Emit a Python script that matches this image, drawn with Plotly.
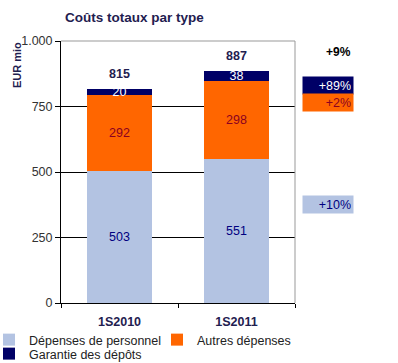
import plotly.graph_objects as go

categories = ["1S2010", "1S2011"]
personnel = [503, 551]
autres = [292, 298]
garantie = [20, 38]
totals = [815, 887]
y_ticks = [0, 250, 500, 750, 1000]
y_tick_labels = ["0", "250", "500", "750", "1.000"]
pct_total = "+9%"
pct_garantie = "+89%"
pct_autres = "+2%"
pct_personnel = "+10%"

FONT = "Liberation Sans, Arial, sans-serif"
NAVY = "#000066"
ORANGE = "#FF6600"
LIGHT = "#B3C3E2"
TITLE_C = "#1F2050"

PL, PR, PT, PB = 61, 295, 41, 303
PW, PH = PR - PL, PB - PT

def px_x(px):
    return (px - PL) / PW

def px_y(py):
    return (PB - py) / PH

fig = go.Figure()
fig.add_trace(go.Bar(x=categories, y=personnel, name="Dépenses de personnel",
                     marker=dict(color=LIGHT, line=dict(width=0)),
                     text=[str(v) for v in personnel], textposition="inside",
                     insidetextanchor="middle", constraintext="none", textangle=0,
                     textfont=dict(color="#000080", size=12.5, family=FONT),
                     legend="legend"))
fig.add_trace(go.Bar(x=categories, y=autres, name="Autres dépenses",
                     marker=dict(color=ORANGE, line=dict(width=0)),
                     text=[str(v) for v in autres], textposition="inside",
                     insidetextanchor="middle", constraintext="none", textangle=0,
                     textfont=dict(color="#8B0020", size=12.5, family=FONT),
                     legend="legend2"))
fig.add_trace(go.Bar(x=categories, y=garantie, name="Garantie des dépôts",
                     marker=dict(color=NAVY, line=dict(width=0)),
                     text=[str(v) for v in garantie], textposition="inside",
                     insidetextanchor="middle", constraintext="none", textangle=0,
                     textfont=dict(color="white", size=12.5, family=FONT),
                     legend="legend3"))

for c, t in zip(categories, totals):
    fig.add_annotation(x=c, y=t, text=f"<b>{t}</b>", showarrow=False,
                       xanchor="center", yanchor="bottom", yshift=6,
                       font=dict(color=TITLE_C, size=12.5, family=FONT))

leg_common = dict(orientation="h", xanchor="left", yanchor="middle",
                  font=dict(size=12.5, color="#222222", family=FONT),
                  bgcolor="rgba(0,0,0,0)", borderwidth=0)

fig.update_layout(
    width=398, height=363,
    margin=dict(l=PL, r=398 - PR, t=PT, b=363 - PB, autoexpand=False),
    barmode="stack", bargap=0.445,
    plot_bgcolor="white", paper_bgcolor="white",
    font=dict(family=FONT, size=12.5, color="#333333"),
    title=dict(text="<b>Coûts totaux par type</b>", x=65/398, xanchor="left",
               xref="container", y=1-17/363, yanchor="middle", yref="container",
               font=dict(size=13.5, color=TITLE_C, family=FONT)),
    xaxis=dict(showline=True, linecolor="black", linewidth=1,
               ticks="outside", tickson="boundaries", ticklen=4, tickcolor="black",
               ticklabelstandoff=7,
               tickfont=dict(color=TITLE_C, size=12.5, family=FONT),
               tickvals=categories, ticktext=[f"<b>{c}</b>" for c in categories]),
    yaxis=dict(range=[0, 1000], tickvals=y_ticks, ticktext=y_tick_labels,
               showline=True, linecolor="black", linewidth=1,
               ticks="outside", ticklen=5, tickcolor="black",
               showgrid=True, gridcolor="black", gridwidth=1,
               zeroline=False,
               tickfont=dict(color="#333333", size=12.5, family=FONT)),
    legend=dict(x=px_x(-11), y=px_y(340), **leg_common),
    legend2=dict(x=px_x(157), y=px_y(340), **leg_common),
    legend3=dict(x=px_x(-11), y=px_y(354), **leg_common),
    showlegend=True,
)

fig.add_shape(type="line", xref="paper", yref="paper", x0=0, x1=1, y0=1, y1=1,
              line=dict(color="#999999", width=1), layer="above")
fig.add_shape(type="line", xref="paper", yref="paper", x0=1, x1=1, y0=0, y1=1,
              line=dict(color="#999999", width=1), layer="above")

fig.add_annotation(text="<b>EUR mio</b>", xref="paper", yref="paper",
                   x=px_x(17), y=px_y(65), textangle=-90, showarrow=False,
                   xanchor="center", yanchor="middle",
                   font=dict(size=11, color=TITLE_C, family=FONT))

fig.add_annotation(text=f"<b>{pct_total}</b>", xref="paper", yref="paper",
                   x=px_x(338), y=px_y(52), showarrow=False,
                   xanchor="center", yanchor="middle",
                   font=dict(size=12, color="black", family=FONT))

for txt, bg, fc, yc in [(pct_garantie, NAVY, "white", 85.5),
                        (pct_autres, ORANGE, "#8B0020", 102.5),
                        (pct_personnel, LIGHT, "#000080", 204.5)]:
    fig.add_annotation(text=txt, xref="paper", yref="paper",
                       x=px_x(328), y=px_y(yc), showarrow=False,
                       xanchor="center", yanchor="middle",
                       width=46, height=13, borderpad=2, align="right",
                       bgcolor=bg, font=dict(size=12.5, color=fc, family=FONT))

fig.write_html("out.html", config={"displayModeBar": False},
               post_script="document.body.style.margin='0';document.body.style.padding='0';")
